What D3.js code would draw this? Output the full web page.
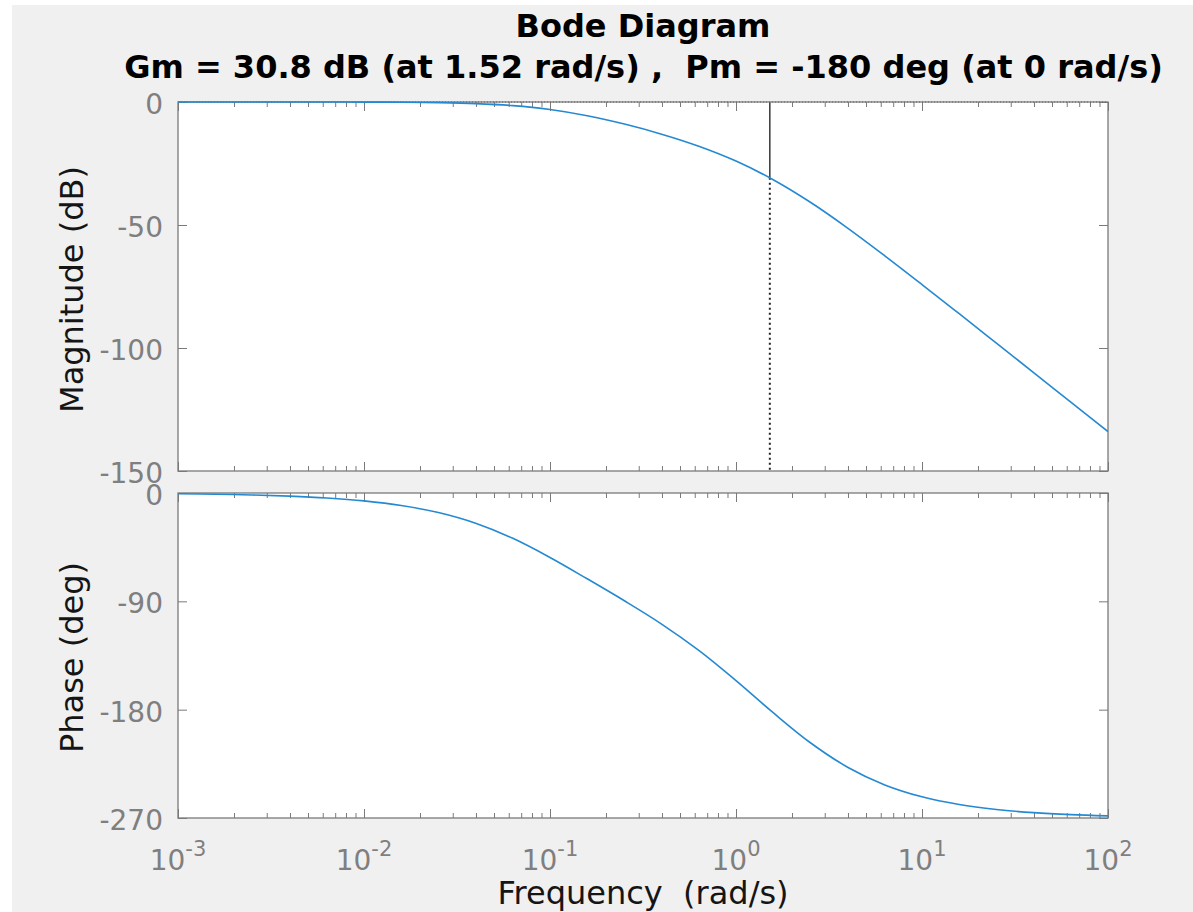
<!DOCTYPE html>
<html>
<head>
<meta charset="utf-8">
<script src="https://cdn.jsdelivr.net/npm/d3@7"></script>
<style>
  html, body { margin: 0; padding: 0; background: #ffffff; }
  svg { display: block; }
  text { font-family: "DejaVu Sans", sans-serif; white-space: pre; }
</style>
</head>
<body>
<script>
// ---- data ----
const frequency = [0.001, 0.001585, 0.002512, 0.003981, 0.00631, 0.01, 0.01585, 0.02512, 0.03981, 0.0631,
  0.1, 0.1585, 0.2512, 0.3981, 0.631, 1, 1.585, 2.512, 3.981, 6.31, 10, 15.85, 25.12, 39.81, 63.1, 100];
const magnitudeDb = [0.0, -0.001, -0.003, -0.007, -0.017, -0.044, -0.109, -0.269, -0.648, -1.477,
  -3.06, -5.59, -8.97, -13.07, -17.98, -24.02, -31.59, -40.76, -51.23, -62.51, -74.19, -86.07, -98.02, -109.99, -121.99, -133.98];
const phaseDeg = [-0.66, -1.04, -1.66, -2.62, -4.15, -6.57, -10.37, -16.26, -25.13, -37.67,
  -53.57, -71.29, -89.55, -108.87, -130.76, -155.86, -182.54, -207.48, -227.79, -242.50, -252.41, -258.84, -262.94, -265.54, -267.18, -268.22];
const xMajorTicks = [0.001, 0.01, 0.1, 1, 10, 100];
const xTickExponents = ["-3", "-2", "-1", "0", "1", "2"];
const magTicks = [0, -50, -100, -150];
const phaseTicks = [0, -90, -180, -270];
const gainMargin = { freq: 1.52, db: -30.8 };
const titleLine1 = "Bode Diagram";
const titleLine2 = "Gm = 30.8 dB (at 1.52 rad/s) ,  Pm = -180 deg (at 0 rad/s)";
const xLabel = "Frequency  (rad/s)";
const magLabel = "Magnitude (dB)";
const phaseLabel = "Phase (deg)";

// ---- layout ----
const W = 1193, H = 912;
const L = 178, R = 1108;
const magTop = 102, magBot = 471;
const phTop = 493, phBot = 818;
const axisColor = "#7a7a7a";
const tickTextColor = "#7f7f7f";
const lineColor = "#2589d2";

const svg = d3.select("body").append("svg").attr("width", W).attr("height", H);
svg.append("rect").attr("x", 12).attr("y", 5).attr("width", W - 12).attr("height", H - 5).attr("fill", "#f0f0f0");

const x = d3.scaleLog().domain([1e-3, 1e2]).range([L, R]);
const yMag = d3.scaleLinear().domain([-150, 0]).range([magBot, magTop]);
const yPh = d3.scaleLinear().domain([-270, 0]).range([phBot, phTop]);

const data = frequency.map((f, i) => ({ f, m: magnitudeDb[i], p: phaseDeg[i] }));
const minorTicks = x.ticks().filter(v => !xMajorTicks.some(m => Math.abs(m - v) / m < 1e-9));

const defs = svg.append("defs");

function panel(id, y, top, bot, yTicks) {
  const g = svg.append("g");
  g.append("rect").attr("x", L).attr("y", top).attr("width", R - L).attr("height", bot - top).attr("fill", "#ffffff");
  defs.append("clipPath").attr("id", id).append("rect")
    .attr("x", L).attr("y", top - 1).attr("width", R - L).attr("height", bot - top + 2);

  const styleAxis = sel => {
    sel.select(".domain").remove();
    sel.selectAll("text").remove();
    sel.selectAll("line").attr("stroke", axisColor).attr("stroke-width", 1);
  };
  // x ticks bottom & top (inward)
  g.append("g").attr("transform", `translate(0,${bot})`).call(d3.axisBottom(x).tickValues(xMajorTicks).tickSize(-9)).call(styleAxis);
  g.append("g").attr("transform", `translate(0,${bot})`).call(d3.axisBottom(x).tickValues(minorTicks).tickSize(-5)).call(styleAxis);
  g.append("g").attr("transform", `translate(0,${top})`).call(d3.axisTop(x).tickValues(xMajorTicks).tickSize(-9)).call(styleAxis);
  g.append("g").attr("transform", `translate(0,${top})`).call(d3.axisTop(x).tickValues(minorTicks).tickSize(-5)).call(styleAxis);
  // y ticks left & right (inward)
  g.append("g").attr("transform", `translate(${L},0)`).call(d3.axisLeft(y).tickValues(yTicks).tickSize(-9)).call(styleAxis);
  g.append("g").attr("transform", `translate(${R},0)`).call(d3.axisRight(y).tickValues(yTicks).tickSize(-9)).call(styleAxis);

  // y tick labels
  g.selectAll(".ylab").data(yTicks).enter().append("text")
    .attr("x", 163).attr("y", d => y(d) + 12).attr("text-anchor", "end")
    .attr("font-size", 28).attr("fill", tickTextColor).text(d => d);
  return g;
}

const gMag = panel("clipMag", yMag, magTop, magBot, magTicks);

// gain margin markers
gMag.append("line").attr("x1", L).attr("x2", R).attr("y1", yMag(0)).attr("y2", yMag(0))
  .attr("stroke", "#333").attr("stroke-width", 1).attr("stroke-dasharray", "1,2");
gMag.append("line").attr("x1", x(gainMargin.freq)).attr("x2", x(gainMargin.freq))
  .attr("y1", yMag(0)).attr("y2", yMag(gainMargin.db)).attr("stroke", "#2a2a2a").attr("stroke-width", 1.4);
gMag.append("line").attr("x1", x(gainMargin.freq)).attr("x2", x(gainMargin.freq))
  .attr("y1", yMag(gainMargin.db)).attr("y2", yMag(-150)).attr("stroke", "#222").attr("stroke-width", 2)
  .attr("stroke-dasharray", "2,3");

const gPh = panel("clipPh", yPh, phTop, phBot, phaseTicks);

// frames
[[magTop, magBot], [phTop, phBot]].forEach(([t, b]) => {
  svg.append("rect").attr("x", L).attr("y", t).attr("width", R - L).attr("height", b - t)
    .attr("fill", "none").attr("stroke", axisColor).attr("stroke-width", 1.3);
});

// curves (drawn above frames, clipped to plot areas)
svg.append("path").datum(data)
  .attr("d", d3.line().x(d => x(d.f)).y(d => yMag(d.m)).curve(d3.curveCatmullRom))
  .attr("fill", "none").attr("stroke", lineColor).attr("stroke-width", 1.6).attr("clip-path", "url(#clipMag)");
svg.append("path").datum(data)
  .attr("d", d3.line().x(d => x(d.f)).y(d => yPh(d.p)).curve(d3.curveCatmullRom))
  .attr("fill", "none").attr("stroke", lineColor).attr("stroke-width", 1.6).attr("clip-path", "url(#clipPh)");

// x tick labels with superscripts
const xl = svg.selectAll(".xlab").data(xMajorTicks).enter().append("text")
  .attr("x", d => x(d)).attr("y", 870).attr("text-anchor", "middle")
  .attr("font-size", 28).attr("fill", tickTextColor);
xl.append("tspan").text("10");
xl.append("tspan").attr("dy", -14).attr("font-size", 21).text((d, i) => xTickExponents[i]);

// axis labels
svg.append("text").attr("x", (L + R) / 2).attr("y", 904).attr("text-anchor", "middle")
  .attr("font-size", 32).attr("fill", "#151515").text(xLabel);
svg.append("text").attr("transform", `translate(83,${(magTop + magBot) / 2 + 3}) rotate(-90)`)
  .attr("text-anchor", "middle").attr("font-size", 32).attr("fill", "#151515").text(magLabel);
svg.append("text").attr("transform", `translate(83,${(phTop + phBot) / 2 + 2}) rotate(-90)`)
  .attr("text-anchor", "middle").attr("font-size", 32).attr("fill", "#151515").text(phaseLabel);

// title
svg.append("text").attr("x", (L + R) / 2).attr("y", 37).attr("text-anchor", "middle")
  .attr("font-size", 32).attr("font-weight", "bold").attr("fill", "#000").text(titleLine1);
svg.append("text").attr("x", (L + R) / 2 + 0.5).attr("y", 78).attr("text-anchor", "middle")
  .attr("font-size", 32).attr("font-weight", "bold").attr("fill", "#000").text(titleLine2);
</script>
</body>
</html>
